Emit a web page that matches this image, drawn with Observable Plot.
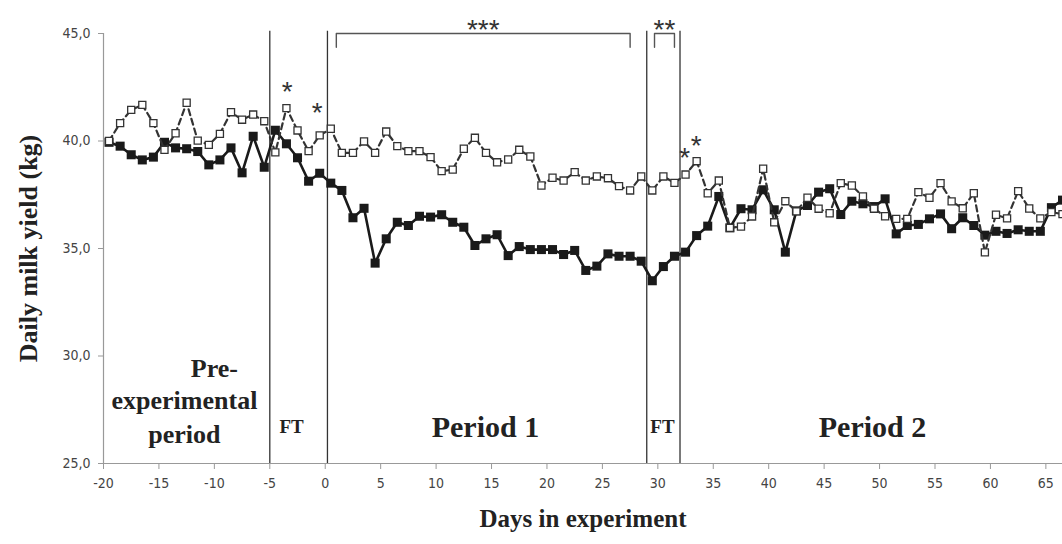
<!DOCTYPE html>
<html><head><meta charset="utf-8">
<script src="https://cdn.jsdelivr.net/npm/d3@7"></script>
<script src="https://cdn.jsdelivr.net/npm/@observablehq/plot@0.6"></script>
<style>body{margin:0;background:#fff;overflow:hidden}</style>
</head><body><div id="chart"></div>
<script>
// Days in experiment (x positions of the daily points)
const days = [-19.5,-18.5,-17.5,-16.5,-15.5,-14.5,-13.5,-12.5,-11.5,-10.5,-9.5,-8.5,-7.5,-6.5,-5.5,-4.5,-3.5,-2.5,-1.5,-0.5,
  0.5,1.5,2.5,3.5,4.5,5.5,6.5,7.5,8.5,9.5,10.5,11.5,12.5,13.5,14.5,15.5,16.5,17.5,18.5,19.5,
  20.5,21.5,22.5,23.5,24.5,25.5,26.5,27.5,28.5,29.5,30.5,31.5,32.5,33.5,34.5,35.5,36.5,37.5,38.5,39.5,
  40.5,41.5,42.5,43.5,44.5,45.5,46.5,47.5,48.5,49.5,50.5,51.5,52.5,53.5,54.5,55.5,56.5,57.5,58.5,59.5,
  60.5,61.5,62.5,63.5,64.5,65.5,66.5];
// Filled-square series (solid line)
const filledYield = [39.94,39.76,39.36,39.12,39.25,39.94,39.68,39.64,39.51,38.89,39.12,39.68,38.52,40.22,38.78,40.50,39.87,39.22,38.13,38.50,
  38.04,37.70,36.43,36.87,34.32,35.45,36.22,36.07,36.50,36.46,36.57,36.22,35.99,35.14,35.45,35.64,34.67,35.09,34.95,34.95,
  34.95,34.72,34.91,33.98,34.18,34.75,34.64,34.64,34.41,33.50,34.16,34.64,34.83,35.60,36.04,37.42,35.96,36.85,36.80,37.73,
  36.80,34.83,36.75,37.00,37.62,37.78,36.58,37.20,37.08,36.95,37.31,35.68,36.07,36.12,36.38,36.61,35.92,36.43,36.07,35.62,
  35.80,35.70,35.87,35.80,35.80,36.90,37.25];
// Open-square series (dashed line)
const openYield = [40.00,40.83,41.45,41.68,40.83,39.59,40.36,41.78,40.02,39.82,40.33,41.34,40.99,41.23,40.92,39.47,41.53,40.49,39.53,40.26,
  40.57,39.45,39.45,39.98,39.45,40.44,39.76,39.53,39.53,39.25,38.60,38.67,39.64,40.15,39.45,39.01,39.14,39.59,39.28,37.93,
  38.29,38.16,38.55,38.16,38.35,38.27,37.90,37.70,38.35,37.70,38.35,38.05,38.44,39.06,37.57,38.16,35.96,36.02,36.49,38.71,
  36.22,37.20,36.73,37.36,36.85,36.64,38.04,37.93,37.42,36.85,36.50,36.38,36.38,37.62,37.36,38.04,37.19,36.87,37.57,34.82,
  36.57,36.40,37.67,36.86,36.40,36.69,36.60];
const xTicks = [-20,-15,-10,-5,0,5,10,15,20,25,30,35,40,45,50,55,60,65];
const yTicks = [25,30,35,40,45];
const periodBoundaries = [-5, 0.2, 29, 32];
const brackets = [{from: 1.0, to: 27.5, label: "***"}, {from: 29.7, to: 31.5, label: "**"}];
const bracketTop = 45.0, bracketLeg = 44.36, bracketLabelY = 45.53;
const stars = [{day: -3.43, value: 42.66}, {day: -0.73, value: 41.65}, {day: 32.43, value: 39.59}, {day: 33.46, value: 40.15}];
const bigLabels = [{text: "Period 1", day: 14.45, value: 26.67}, {text: "Period 2", day: 49.36, value: 26.67}];
const ftLabels = [{text: "FT", day: -3.04, value: 26.72}, {text: "FT", day: 30.42, value: 26.72}];
const preLabels = [{text: "Pre-", day: -10.0, value: 29.42}, {text: "experimental", day: -12.7, value: 27.93}, {text: "period", day: -12.7, value: 26.35}];

const filled = days.map((d, i) => ({day: d, value: filledYield[i]}));
const open = days.map((d, i) => ({day: d, value: openYield[i]}));
const bracketPts = brackets.flatMap((b, i) => [
  {id: i, x: b.from, y: bracketLeg}, {id: i, x: b.from, y: bracketTop},
  {id: i, x: b.to, y: bracketTop}, {id: i, x: b.to, y: bracketLeg}]);

const serif = "'Liberation Serif', 'Times New Roman', serif";
const tickFont = "'DejaVu Sans Condensed','DejaVu Sans',sans-serif";
const fmt = d => d.toFixed(1).replace(".", ",");

const chart = Plot.plot({
  width: 1062, height: 544,
  marginTop: 33, marginBottom: 81, marginLeft: 103, marginRight: 0,
  style: {fontFamily: tickFont, background: "#fff"},
  x: {domain: [-20, 66.5]},
  y: {domain: [25, 45]},
  marks: [
    Plot.ruleX(periodBoundaries, {y1: 25, y2: 45.1, stroke: "#333", strokeWidth: 1.3}),
    Plot.ruleY([25], {stroke: "#999", strokeWidth: 1.2}),
    Plot.ruleX([-20], {stroke: "#999", strokeWidth: 1.2}),
    Plot.axisX({ticks: xTicks, tickSize: 6, tickFormat: () => "", label: null, stroke: "#999"}),
    Plot.axisY({ticks: yTicks, tickSize: 5, tickFormat: () => "", label: null, stroke: "#999"}),
    Plot.text(xTicks, {x: d => d, frameAnchor: "bottom", dy: 24, text: d => String(d), fontSize: 14, fill: "#444", fontFamily: tickFont}),
    Plot.text(yTicks, {frameAnchor: "left", y: d => d, dx: -13, textAnchor: "end", text: fmt, fontSize: 14, fill: "#444", fontFamily: tickFont}),
    Plot.line(filled, {x: "day", y: "value", stroke: "#1a1a1a", strokeWidth: 2.6}),
    Plot.dot(filled, {x: "day", y: "value", symbol: "square", r: 5.1, fill: "#1a1a1a", stroke: "none"}),
    Plot.line(open, {x: "day", y: "value", stroke: "#333", strokeWidth: 2.2, strokeDasharray: "6,4"}),
    Plot.dot(open, {x: "day", y: "value", symbol: "square", r: 4.0, fill: "white", stroke: "#333", strokeWidth: 1.3}),
    Plot.line(bracketPts, {x: "x", y: "y", z: "id", stroke: "#555", strokeWidth: 1.4, curve: "linear", strokeLinejoin: "round"}),
    Plot.text(brackets, {x: d => (d.from + d.to) / 2, y: () => bracketLabelY, text: "label", fontSize: 28, fontFamily: "'Liberation Sans', sans-serif", fill: "#333", dy: 8}),
    Plot.text(stars, {x: "day", y: "value", text: () => "*", fontSize: 28, fontFamily: "'Liberation Sans', sans-serif", fill: "#333", dy: 8}),
    Plot.text(bigLabels, {x: "day", y: "value", text: "text", fontSize: 30, fontWeight: "bold", fontFamily: serif, fill: "#222"}),
    Plot.text(ftLabels, {x: "day", y: "value", text: "text", fontSize: 19, fontWeight: "bold", fontFamily: serif, fill: "#222"}),
    Plot.text(preLabels, {x: "day", y: "value", text: "text", fontSize: 26, fontWeight: "bold", fontFamily: serif, fill: "#222"}),
    Plot.text(["Days in experiment"], {frameAnchor: "bottom", dy: 63, fontSize: 25, fontWeight: "bold", fontFamily: serif, fill: "#222"}),
    Plot.text(["Daily milk yield (kg)"], {frameAnchor: "left", textAnchor: "middle", dx: -75, rotate: -90, fontSize: 26, fontWeight: "bold", fontFamily: serif, fill: "#222"})
  ]
});
document.getElementById("chart").append(chart);
</script>
</body></html>
